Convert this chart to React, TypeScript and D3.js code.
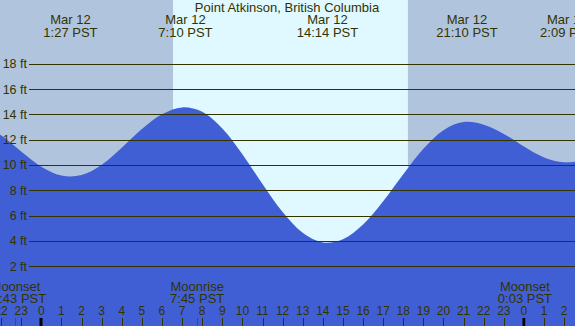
import React from "react";
import * as d3 from "d3";

const W = 575;
const H = 326;

const title = "Point Atkinson, British Columbia";

// hourly tide heights (ft), hours relative to Mar 12 00:00 PST
const tideHours = [-3, -2, -1, 0, 1, 2, 3, 4, 5, 6, 7, 8, 9, 10, 11, 12, 13, 14, 15, 16, 17, 18, 19, 20, 21, 22, 23, 24, 25, 26, 27];
const tideHeights = [13.25, 12.34, 11.06, 9.86, 9.16, 9.2, 10.02, 11.36, 12.84, 14.01, 14.55, 14.2, 12.88, 10.85, 8.49, 6.28, 4.64, 3.88, 4.14, 5.3, 7.14, 9.27, 11.28, 12.75, 13.39, 13.18, 12.45, 11.46, 10.6, 10.21, 10.37];

// extremes labels
const extremeHours = [1.45, 7.167, 14.233, 21.167, 26.15];
const extremeDates = ["Mar 12", "Mar 12", "Mar 12", "Mar 12", "Mar 13"];
const extremeTimes = ["1:27 PST", "7:10 PST", "14:14 PST", "21:10 PST", "2:09 PST"];

// daylight
const sunrise = 6.55;
const sunset = 18.23;

// moon events
const moonHours = [-1.283, 7.75, 24.05];
const moonNames = ["Moonset", "Moonrise", "Moonset"];
const moonTimes = ["22:43 PST", "7:45 PST", "0:03 PST"];

const hourTicks = d3.range(-2, 27);
const feetTicks = [2, 4, 6, 8, 10, 12, 14, 16, 18];

const NIGHT = "#b0c4de";
const DAY = "#e0f8ff";
const WATER = "#415fd5";
const INK = "#333300";
const FONT = "'Liberation Sans', Arial, sans-serif";

export default function App() {
  const x = d3.scaleLinear().domain([0, 24]).range([41.3, 41.3 + 24 * 20.11]);
  const y = d3.scaleLinear().domain([0, 18]).range([291.6, 63.7]);

  const pts = tideHours.map((h, i) => [h, tideHeights[i]] as [number, number]);
  const area = d3
    .area<[number, number]>()
    .x((d) => x(d[0]))
    .y0(H)
    .y1((d) => y(d[1]))
    .curve(d3.curveCatmullRom.alpha(0.5));

  const hourLabel = (h: number) => String(((h % 24) + 24) % 24);

  return (
    <div style={{ position: "fixed", left: 0, top: 0 }}>
      <svg width={W} height={H} style={{ display: "block" }} fontFamily={FONT}>
        <rect x={0} y={0} width={W} height={H} fill={NIGHT} />
        <rect x={x(sunrise)} y={0} width={x(sunset) - x(sunrise)} height={H} fill={DAY} />
        <path d={area(pts) || ""} fill={WATER} />
        {feetTicks.map((f) => (
          <g key={f}>
            <line x1={29} x2={W} y1={Math.round(y(f)) + 0.5} y2={Math.round(y(f)) + 0.5} stroke={INK} strokeWidth={1} />
            <text x={27} y={y(f) + 4.5} fontSize={12.5} fill={INK} textAnchor="end">
              {f} ft
            </text>
          </g>
        ))}
        <text x={287} y={11.5} fontSize={13} fill={INK} textAnchor="middle">
          {title}
        </text>
        {extremeHours.map((h, i) => (
          <g key={i}>
            <text x={x(h)} y={24} fontSize={13} fill={INK} textAnchor="middle">
              {extremeDates[i]}
            </text>
            <text x={x(h)} y={36.5} fontSize={13} fill={INK} textAnchor="middle">
              {extremeTimes[i]}
            </text>
          </g>
        ))}
        {moonHours.map((h, i) => (
          <g key={i}>
            <text x={x(h)} y={291} fontSize={13} fill={INK} textAnchor="middle">
              {moonNames[i]}
            </text>
            <text x={x(h)} y={303} fontSize={13} fill={INK} textAnchor="middle">
              {moonTimes[i]}
            </text>
          </g>
        ))}
        {hourTicks.map((h) => {
          const midnight = h % 24 === 0;
          const px = Math.round(x(h));
          return (
            <g key={h}>
              <line
                x1={midnight ? px : px + 0.5}
                x2={midnight ? px : px + 0.5}
                y1={318}
                y2={H}
                stroke={midnight ? "#000" : INK}
                strokeWidth={midnight ? 3 : 1}
              />
              <text x={x(h)} y={315} fontSize={12} fill={INK} textAnchor="middle">
                {hourLabel(h)}
              </text>
            </g>
          );
        })}
        {moonHours.map((h, i) => (
          <line key={i} x1={Math.round(x(h)) + 0.5} x2={Math.round(x(h)) + 0.5} y1={318} y2={H} stroke="#ff0000" strokeWidth={1} />
        ))}
      </svg>
    </div>
  );
}
